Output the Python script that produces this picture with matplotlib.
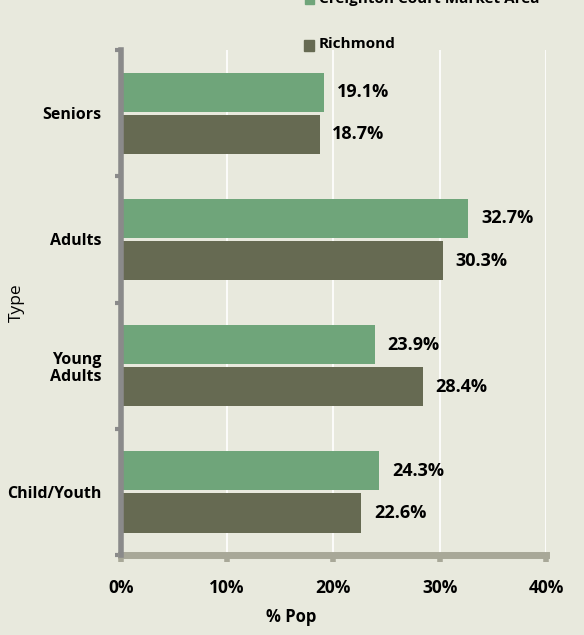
import numpy as np
from matplotlib import pyplot as plt
from matplotlib.patches import Rectangle

categories = ["Child/Youth", "Young\nAdults", "Adults", "Seniors"]
creighton = [24.3, 23.9, 32.7, 19.1]
richmond = [22.6, 28.4, 30.3, 18.7]
xticks = [0, 10, 20, 30, 40]

bg = "#e8e9dd"
green = "#6fa57a"
dark = "#666a52"

plt.rcParams['font.family'] = ['Open Sans', 'DejaVu Sans']

fig = plt.figure(figsize=(5.84, 6.35), dpi=100, facecolor=bg)
ax = fig.add_axes([0.207, 0.126, 0.728, 0.795], facecolor=bg)

y = np.arange(len(categories))
h = 0.31
ax.barh(y + h / 2 + 0.012, creighton, height=h, color=green, zorder=3)
ax.barh(y - h / 2 - 0.012, richmond, height=h, color=dark, zorder=3)

for i in range(len(categories)):
    ax.text(creighton[i] + 1.2, y[i] + h / 2 + 0.012, "%.1f%%" % creighton[i],
            va="center", ha="left", fontsize=13, fontweight="bold")
    ax.text(richmond[i] + 1.2, y[i] - h / 2 - 0.012, "%.1f%%" % richmond[i],
            va="center", ha="left", fontsize=13, fontweight="bold")

ax.set_xlim(0, 40)
ax.set_ylim(-0.5, 3.5)
ax.set_xticks(xticks)
ax.set_xticklabels(["%d%%" % t for t in xticks], fontsize=12.5, fontweight="bold")
ax.set_yticks(y)
ax.set_yticklabels(categories, fontsize=11.5, fontweight="bold", ha="right",
                   linespacing=1.1)
ax.tick_params(axis="y", length=0, pad=14)
ax.tick_params(axis="x", length=5, width=4, color="#a8a898", pad=12)

# minor ticks on the left spine at category boundaries
ax.set_yticks(np.arange(-0.5, 4.0, 1.0), minor=True)
ax.tick_params(axis="y", which="minor", length=4, width=3, color="#8a8a8a")

ax.grid(axis="x", color="white", linewidth=1.2, zorder=0)
for s in ["top", "right"]:
    ax.spines[s].set_visible(False)
ax.spines["left"].set_color("#8a8a8a")
ax.spines["left"].set_linewidth(4)
ax.spines["bottom"].set_color("#a8a898")
ax.spines["bottom"].set_linewidth(5)
ax.spines["left"].set_zorder(4)

ax.set_xlabel("% Pop", fontsize=12, fontweight="bold")
ax.xaxis.set_label_coords(0.4, -0.105)
ax.set_ylabel("Type", fontsize=12.5)
ax.yaxis.set_label_coords(-0.226, 0.5)

# legend entries (top one is partly cut off in the original)
fig.patches.append(Rectangle((305 / 584, 1 - 4 / 635), 9 / 584, 12 / 635,
                             transform=fig.transFigure, color=green, figure=fig))
fig.text(319 / 584, 1 + 1 / 635, "Creighton Court Market Area", fontsize=11,
         fontweight="bold", va="center", ha="left")
fig.patches.append(Rectangle((304 / 584, 1 - 51 / 635), 10 / 584, 11 / 635,
                             transform=fig.transFigure, color=dark, figure=fig))
fig.text(319 / 584, 1 - 44 / 635, "Richmond", fontsize=11,
         fontweight="bold", va="center", ha="left")

fig.savefig("out.png", dpi=100, facecolor=bg)
